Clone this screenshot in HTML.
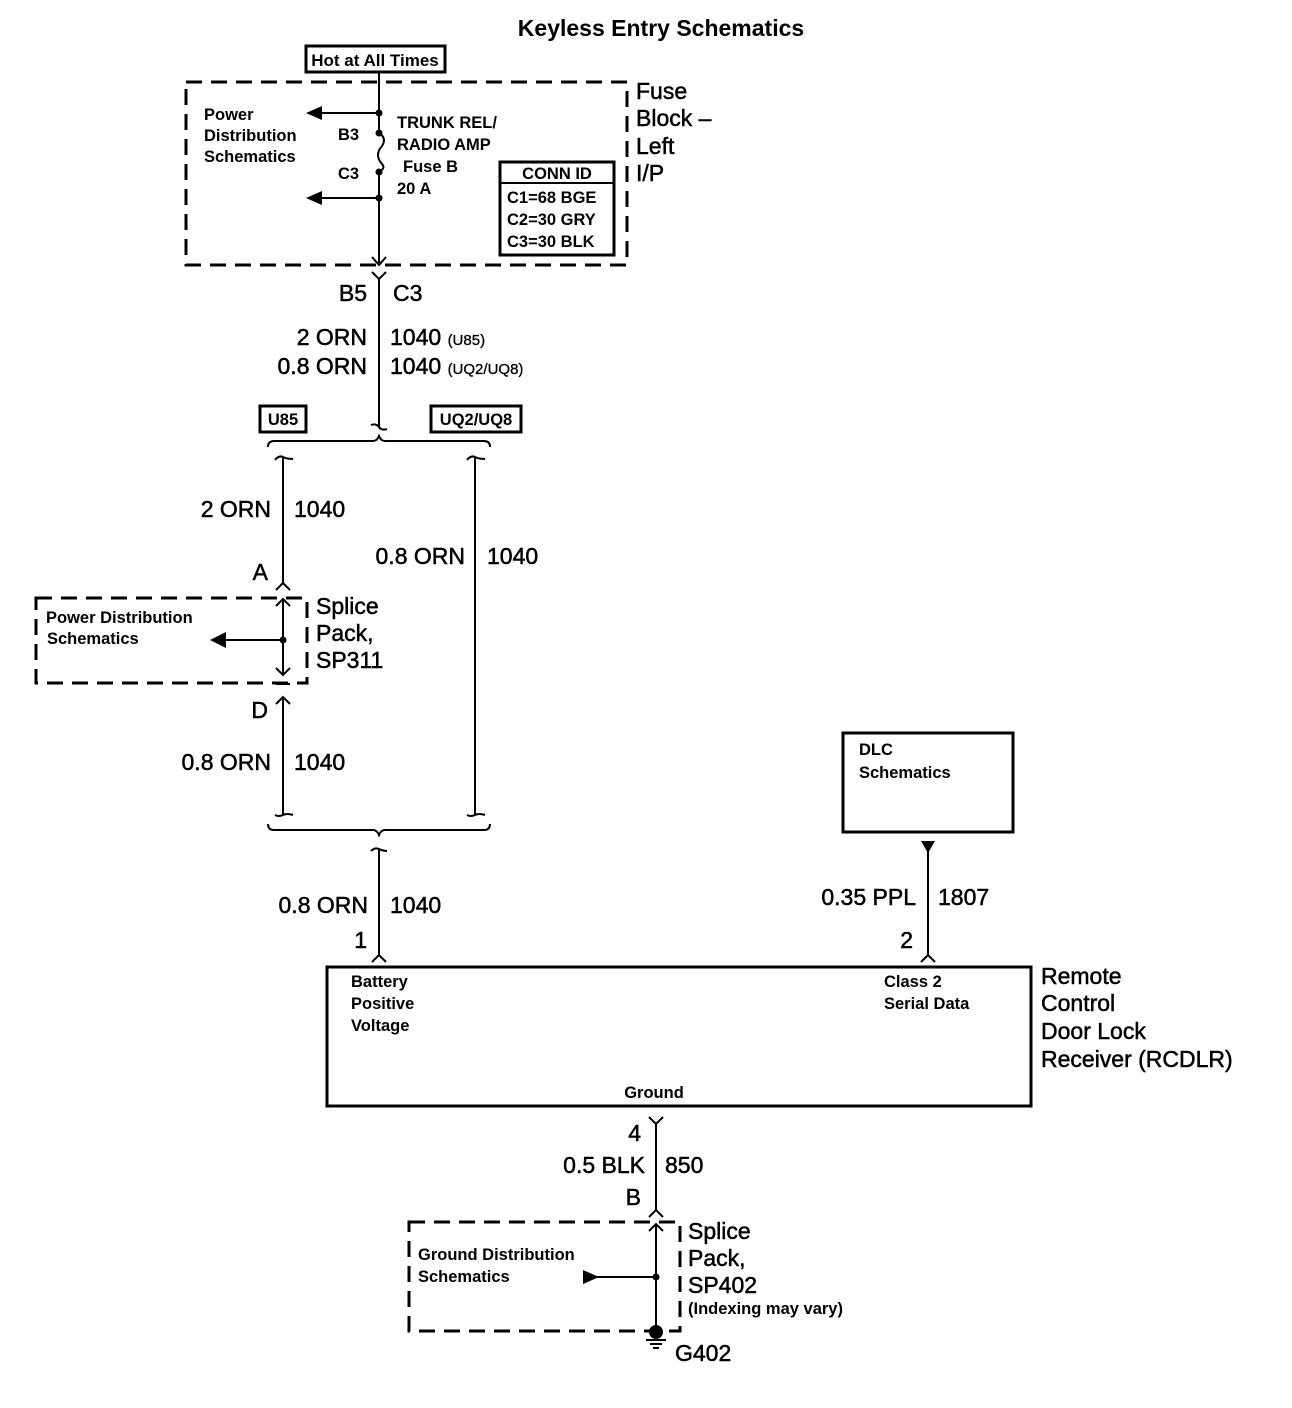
<!DOCTYPE html>
<html><head><meta charset="utf-8"><style>
html,body{margin:0;padding:0;background:#fff;}
svg{display:block;}
text{font-family:"Liberation Sans",Arial,sans-serif;fill:#000;font-weight:bold;}
.b{font-size:23px;font-weight:normal;stroke:#000;stroke-width:0.5px;}
.s{font-size:16.5px;}
</style></head><body>
<svg width="1292" height="1408" viewBox="0 0 1292 1408" xmlns="http://www.w3.org/2000/svg">
<g fill="none" stroke="#000">
<rect x="186" y="82" width="441" height="183" stroke-width="3" stroke-dasharray="16,9"/>
<rect x="306" y="46" width="139" height="26" stroke-width="3"/>
<rect x="500" y="162" width="114" height="93" stroke-width="3"/>
<line x1="500" y1="183" x2="614" y2="183" stroke-width="2"/>
<path d="M379 72 V133 M379 133 q8 5 3 13 q-8 9 0 18 q4 4 -3 8 M379 172 V263" stroke-width="2"/>
<path d="M379 113 H318 M379 198 H318" stroke-width="2"/>
<path d="M372 257 L379 265 L386 257" stroke-width="2"/>
<path d="M372 272 L379 279 L386 272 M379 279 V427 q-3 -4 -8 -2 M379 427 q3 4 8 2" stroke-width="2"/>
<path d="M268 447 q0 -6 6 -6 H373 q4 0 6 -5 q2 5 6 5 H484 q6 0 6 6" stroke-width="2"/>
<rect x="260" y="406" width="46" height="26" stroke-width="3"/>
<rect x="431" y="406" width="90" height="26" stroke-width="3"/>
<path d="M275 460 q4 -5 8 -3 q4 2 10 2 M283 458 V583 M276 590 L283 583 L290 590" stroke-width="2"/>
<path d="M276 606 L283 599 L290 606 M283 599 V675 M276 668 L283 675 L290 668 M276 704 L283 697 L290 704 M283 697 V815 M275 815 q4 2 8 0 q4 -2 10 0" stroke-width="2"/>
<line x1="276" y1="684" x2="290" y2="684" stroke-width="2"/>
<path d="M283 640 H225" stroke-width="2"/>
<rect x="36" y="598" width="271" height="85" stroke-width="3" stroke-dasharray="16,9"/>
<path d="M467 460 q4 -5 8 -3 q4 2 10 2 M475 458 V815 M467 815 q4 2 8 0 q4 -2 10 0" stroke-width="2"/>
<path d="M268 824 q0 6 6 6 H373 q4 0 6 5 q2 -5 6 -5 H484 q6 0 6 -6" stroke-width="2"/>
<path d="M371 851 q4 -4 8 -2 q4 2 8 2 M379 849 V955 M372 962 L379 955 L386 962" stroke-width="2"/>
<rect x="327" y="967" width="704" height="139" stroke-width="3"/>
<rect x="843" y="733" width="170" height="99" stroke-width="3"/>
<path d="M928 850 V955 M921 962 L928 955 L935 962" stroke-width="2"/>
<path d="M649 1117 L656 1124 L663 1117 M656 1124 V1210 M649 1217 L656 1210 L663 1217" stroke-width="2"/>
<path d="M649 1231 L656 1224 L663 1231 M656 1224 V1330 M656 1277 H595" stroke-width="2"/>
<rect x="409" y="1222" width="271" height="109" stroke-width="3" stroke-dasharray="16,9"/>
<path d="M646 1340 H666 M650 1344 H662 M653 1348 H659" stroke-width="2"/>
</g>
<g fill="#000">
<circle cx="379" cy="113" r="3.5"/><circle cx="379" cy="133" r="3.5"/><circle cx="379" cy="172" r="3.5"/><circle cx="379" cy="198" r="3.5"/>
<polygon points="306,113 322,106 322,120"/><polygon points="306,198 322,191 322,205"/>
<circle cx="283" cy="640" r="3.5"/><polygon points="210,640 226,632 226,648"/>
<polygon points="921,841 935,841 928,853"/>
<circle cx="656" cy="1277" r="3.5"/><polygon points="599,1277 583,1270 583,1284"/>
<circle cx="656" cy="1332" r="7"/>
</g>
<text x="661" y="36" text-anchor="middle" font-size="23">Keyless Entry Schematics</text>
<text x="375" y="66" text-anchor="middle" font-size="17">Hot at All Times</text>
<text class="s" x="204" y="120">Power</text>
<text class="s" x="204" y="141">Distribution</text>
<text class="s" x="204" y="162">Schematics</text>
<text class="s" x="338" y="140">B3</text>
<text class="s" x="338" y="179">C3</text>
<text class="s" x="397" y="128">TRUNK REL/</text>
<text class="s" x="397" y="150">RADIO AMP</text>
<text class="s" x="403" y="172">Fuse B</text>
<text class="s" x="397" y="194">20 A</text>
<text class="s" x="557" y="179" text-anchor="middle">CONN ID</text>
<text class="s" x="507" y="203">C1=68 BGE</text>
<text class="s" x="507" y="225">C2=30 GRY</text>
<text class="s" x="507" y="247">C3=30 BLK</text>
<text class="b" x="636" y="99">Fuse</text>
<text class="b" x="636" y="126">Block –</text>
<text class="b" x="636" y="154">Left</text>
<text class="b" x="636" y="181">I/P</text>
<text class="b" x="367" y="301" text-anchor="end">B5</text>
<text class="b" x="393" y="301">C3</text>
<text class="b" x="367" y="345" text-anchor="end">2 ORN</text>
<text class="b" x="390" y="345">1040 <tspan font-size="15" style="stroke-width:0.3px">(U85)</tspan></text>
<text class="b" x="367" y="374" text-anchor="end">0.8 ORN</text>
<text class="b" x="390" y="374">1040 <tspan font-size="15" style="stroke-width:0.3px">(UQ2/UQ8)</tspan></text>
<text class="s" x="283" y="425" text-anchor="middle">U85</text>
<text class="s" x="476" y="425" text-anchor="middle">UQ2/UQ8</text>
<text class="b" x="271" y="517" text-anchor="end">2 ORN</text>
<text class="b" x="294" y="517">1040</text>
<text class="b" x="465" y="564" text-anchor="end">0.8 ORN</text>
<text class="b" x="487" y="564">1040</text>
<text class="b" x="268" y="580" text-anchor="end">A</text>
<text class="b" x="268" y="718" text-anchor="end">D</text>
<text class="s" x="46" y="623">Power Distribution</text>
<text class="s" x="47" y="644">Schematics</text>
<text class="b" x="316" y="614">Splice</text>
<text class="b" x="316" y="641">Pack,</text>
<text class="b" x="316" y="668">SP311</text>
<text class="b" x="271" y="770" text-anchor="end">0.8 ORN</text>
<text class="b" x="294" y="770">1040</text>
<text class="b" x="368" y="913" text-anchor="end">0.8 ORN</text>
<text class="b" x="390" y="913">1040</text>
<text class="b" x="367" y="948" text-anchor="end">1</text>
<text class="s" x="859" y="755">DLC</text>
<text class="s" x="859" y="778">Schematics</text>
<text class="b" x="916" y="905" text-anchor="end">0.35 PPL</text>
<text class="b" x="938" y="905">1807</text>
<text class="b" x="913" y="948" text-anchor="end">2</text>
<text class="s" x="351" y="987">Battery</text>
<text class="s" x="351" y="1009">Positive</text>
<text class="s" x="351" y="1031">Voltage</text>
<text class="s" x="884" y="987">Class 2</text>
<text class="s" x="884" y="1009">Serial Data</text>
<text class="s" x="654" y="1098" text-anchor="middle">Ground</text>
<text class="b" x="1041" y="984">Remote</text>
<text class="b" x="1041" y="1011">Control</text>
<text class="b" x="1041" y="1039">Door Lock</text>
<text class="b" x="1041" y="1067">Receiver (RCDLR)</text>
<text class="b" x="641" y="1141" text-anchor="end">4</text>
<text class="b" x="645" y="1173" text-anchor="end">0.5 BLK</text>
<text class="b" x="665" y="1173">850</text>
<text class="b" x="641" y="1205" text-anchor="end">B</text>
<text class="s" x="418" y="1260">Ground Distribution</text>
<text class="s" x="418" y="1282">Schematics</text>
<text class="b" x="688" y="1239">Splice</text>
<text class="b" x="688" y="1266">Pack,</text>
<text class="b" x="688" y="1293">SP402</text>
<text class="s" x="688" y="1314">(Indexing may vary)</text>
<text class="b" x="675" y="1361">G402</text>
</svg>
</body></html>
